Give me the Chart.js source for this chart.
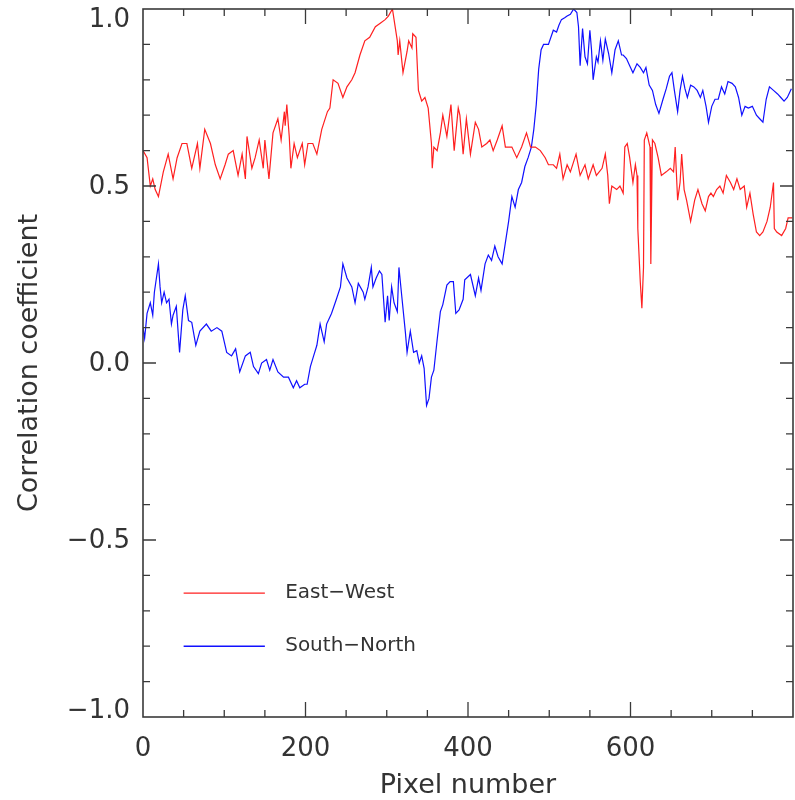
<!DOCTYPE html>
<html>
<head>
<meta charset="utf-8">
<script src="https://cdn.jsdelivr.net/npm/chart.js@4/dist/chart.umd.min.js"></script>
<style>
  html, body { margin: 0; padding: 0; background: #fff; }
  #wrap { width: 795px; height: 800px; }
</style>
</head>
<body>
<div id="wrap"><canvas id="corrChart" width="795" height="800"></canvas></div>
<script>
// East-West correlation (pixel number / coefficient)
const ewPixel = [0, 5, 9, 12, 15, 19, 25, 31, 37, 42, 48, 54, 60, 67, 70, 76, 83, 89, 95, 101,
  105, 111, 117, 122, 126, 128, 134, 138, 143, 148, 150, 155, 160, 166, 170, 174, 175, 177, 180, 182,
  186, 190, 196, 199, 203, 209, 214, 220, 227, 230, 234, 240, 246, 251, 257, 261, 267, 273, 279, 286,
  292, 298, 302, 307, 309, 313, 314, 316, 320, 325, 327, 331, 332, 336, 339, 343, 347, 351, 355, 356,
  358, 362, 366, 369, 374, 379, 383, 388, 390, 393, 394, 398, 403, 409, 413, 417, 423, 427, 431, 436,
  442, 446, 454, 460, 466, 472, 477, 483, 489, 495, 499, 505, 509, 513, 517, 522, 526, 533, 538, 544,
  548, 554, 558, 565, 569, 572, 574, 577, 583, 587, 591, 593, 596, 599, 603, 606, 608, 609, 612, 614,
  616, 617, 620, 622, 624, 625, 627, 630, 634, 638, 644, 649, 653, 655, 658, 661, 663, 666, 669, 674,
  679, 683, 688, 692, 696, 699, 702, 706, 710, 714, 718, 723, 727, 731, 735, 740, 743, 747, 751, 755,
  759, 763, 768, 772, 776, 777, 780, 786, 791, 794, 799];
const ewCorr = [0.60, 0.58, 0.50, 0.52, 0.49, 0.47, 0.54, 0.59, 0.52, 0.58, 0.62, 0.62, 0.55, 0.62, 0.55, 0.66, 0.62, 0.56, 0.52, 0.56,
  0.59, 0.60, 0.53, 0.59, 0.52, 0.64, 0.55, 0.58, 0.63, 0.55, 0.63, 0.52, 0.65, 0.69, 0.63, 0.71, 0.67, 0.73, 0.64, 0.55,
  0.62, 0.58, 0.62, 0.56, 0.62, 0.62, 0.59, 0.66, 0.71, 0.72, 0.80, 0.79, 0.75, 0.78, 0.80, 0.82, 0.87, 0.91, 0.92, 0.95,
  0.96, 0.97, 0.98, 1.00, 0.97, 0.91, 0.87, 0.91, 0.82, 0.88, 0.91, 0.89, 0.93, 0.92, 0.77, 0.74, 0.75, 0.72, 0.62, 0.55,
  0.61, 0.60, 0.65, 0.70, 0.64, 0.73, 0.60, 0.72, 0.70, 0.62, 0.59, 0.69, 0.59, 0.68, 0.66, 0.61, 0.62, 0.63, 0.60, 0.63,
  0.67, 0.61, 0.61, 0.58, 0.61, 0.65, 0.61, 0.61, 0.60, 0.58, 0.56, 0.56, 0.55, 0.59, 0.52, 0.56, 0.54, 0.59, 0.53, 0.56,
  0.52, 0.56, 0.53, 0.55, 0.59, 0.53, 0.45, 0.50, 0.49, 0.50, 0.48, 0.61, 0.62, 0.58, 0.51, 0.56, 0.53, 0.38, 0.23, 0.155,
  0.27, 0.63, 0.65, 0.63, 0.61, 0.28, 0.63, 0.62, 0.58, 0.53, 0.54, 0.55, 0.54, 0.61, 0.46, 0.51, 0.59, 0.49, 0.46, 0.40,
  0.46, 0.49, 0.45, 0.43, 0.47, 0.48, 0.47, 0.49, 0.50, 0.48, 0.53, 0.51, 0.49, 0.52, 0.49, 0.50, 0.44, 0.48, 0.42, 0.37,
  0.36, 0.37, 0.40, 0.44, 0.51, 0.38, 0.37, 0.36, 0.38, 0.41, 0.41];

// South-North correlation
const snPixel = [0, 2, 5, 9, 12, 14, 19, 21, 23, 26, 29, 32, 35, 37, 41, 45, 49, 52, 56, 60,
  65, 70, 78, 84, 91, 97, 103, 109, 114, 119, 126, 132, 136, 142, 146, 152, 156, 160, 166, 173,
  179, 185, 189, 193, 199, 202, 206, 210, 214, 218, 223, 226, 232, 238, 243, 246, 251, 257, 261, 265,
  271, 273, 277, 281, 283, 287, 291, 294, 298, 301, 303, 306, 309, 313, 315, 318, 323, 325, 329, 333,
  337, 340, 343, 346, 349, 352, 355, 358, 362, 366, 369, 374, 378, 382, 385, 389, 394, 396, 403, 409,
  413, 416, 421, 425, 429, 433, 437, 442, 446, 450, 454, 458, 462, 466, 470, 474, 478, 481, 484, 487,
  490, 493, 499, 505, 509, 512, 515, 519, 522, 526, 530, 534, 536, 538, 541, 544, 547, 550, 552, 554,
  558, 560, 563, 566, 569, 573, 577, 581, 585, 589, 591, 595, 599, 603, 608, 612, 616, 619, 623, 627,
  631, 635, 640, 644, 648, 651, 654, 658, 661, 664, 667, 670, 674, 678, 682, 686, 689, 693, 696, 700,
  704, 708, 712, 716, 720, 725, 729, 733, 737, 741, 745, 750, 755, 759, 763, 767, 771, 776, 781, 785,
  789, 793, 798];
const snCorr = [0.10, 0.07, 0.14, 0.17, 0.135, 0.20, 0.28, 0.215, 0.17, 0.20, 0.17, 0.18, 0.11, 0.135, 0.16, 0.03, 0.15, 0.19, 0.12, 0.115,
  0.05, 0.09, 0.11, 0.09, 0.10, 0.09, 0.03, 0.02, 0.04, -0.025, 0.02, 0.03, -0.01, -0.03, 0.00, 0.01, -0.02, 0.01, -0.025, -0.04,
  -0.04, -0.07, -0.05, -0.07, -0.06, -0.06, -0.01, 0.02, 0.05, 0.11, 0.06, 0.11, 0.14, 0.18, 0.215, 0.28, 0.24, 0.215, 0.17, 0.225,
  0.20, 0.18, 0.215, 0.27, 0.215, 0.24, 0.26, 0.25, 0.115, 0.19, 0.12, 0.215, 0.17, 0.145, 0.27, 0.20, 0.085, 0.03, 0.09, 0.03,
  0.035, 0.00, 0.02, -0.015, -0.12, -0.10, -0.04, -0.02, 0.065, 0.145, 0.165, 0.22, 0.23, 0.23, 0.14, 0.15, 0.18, 0.235, 0.25, 0.19,
  0.24, 0.205, 0.28, 0.305, 0.29, 0.33, 0.30, 0.28, 0.34, 0.40, 0.47, 0.44, 0.49, 0.51, 0.555, 0.58, 0.61, 0.66, 0.73, 0.83,
  0.885, 0.90, 0.90, 0.94, 0.935, 0.955, 0.97, 0.975, 0.98, 0.985, 1.00, 0.99, 0.95, 0.84, 0.945, 0.865, 0.845, 0.94, 0.885, 0.80,
  0.865, 0.85, 0.91, 0.855, 0.915, 0.875, 0.82, 0.885, 0.91, 0.87, 0.87, 0.86, 0.84, 0.82, 0.845, 0.835, 0.82, 0.835, 0.785, 0.77,
  0.73, 0.705, 0.745, 0.775, 0.81, 0.82, 0.77, 0.71, 0.77, 0.81, 0.775, 0.75, 0.785, 0.78, 0.77, 0.75, 0.77, 0.725, 0.68, 0.725,
  0.745, 0.745, 0.78, 0.76, 0.795, 0.79, 0.78, 0.75, 0.70, 0.725, 0.72, 0.725, 0.70, 0.69, 0.68, 0.745, 0.78, 0.77, 0.76, 0.75,
  0.74, 0.75, 0.775];

const seriesNames = ['East\u2212West', 'South\u2212North'];
const seriesColors = ['#ff2020', '#1010ff'];
const xTickLabels = [0, 200, 400, 600];
const yTickLabels = [-1.0, -0.5, 0.0, 0.5, 1.0];

const axisColor = '#3a3a3a';
const textColor = '#333';
const fontFamily = "'DejaVu Sans', sans-serif";

function toPoints(xs, ys) {
    return xs.map((x, i) => ({ x: x, y: ys[i] }));
}

// IDL-style boxed frame with inward ticks, y labels kept inside the canvas, and the legend
const framePlugin = {
    id: 'frame',
    afterDatasetsDraw(chart) {
        const { ctx, chartArea: a, scales: { x, y } } = chart;
        ctx.save();
        ctx.strokeStyle = axisColor;
        ctx.lineWidth = 1.6;
        ctx.strokeRect(a.left, a.top, a.right - a.left, a.bottom - a.top);

        ctx.lineWidth = 1.3;
        ctx.beginPath();
        for (let v = 50; v < 800; v += 50) {
            const px = x.getPixelForValue(v);
            const len = v % 200 === 0 ? 15 : 7;
            ctx.moveTo(px, a.bottom); ctx.lineTo(px, a.bottom - len);
            ctx.moveTo(px, a.top); ctx.lineTo(px, a.top + len);
        }
        for (let k = -9; k <= 9; k++) {
            const py = y.getPixelForValue(k / 10);
            const len = k % 5 === 0 ? 13 : 7;
            ctx.moveTo(a.left, py); ctx.lineTo(a.left + len, py);
            ctx.moveTo(a.right, py); ctx.lineTo(a.right - len, py);
        }
        ctx.stroke();

        // y tick labels
        ctx.fillStyle = textColor;
        ctx.font = '26px ' + fontFamily;
        ctx.textAlign = 'right';
        ctx.textBaseline = 'middle';
        yTickLabels.forEach(v => {
            const py = Math.min(Math.max(y.getPixelForValue(v), a.top + 10), a.bottom - 7);
            ctx.fillText(v.toFixed(1).replace('-', '\u2212'), a.left - 13, py + 1);
        });

        // legend
        const legendY = [-0.65, -0.80];
        ctx.font = '20px ' + fontFamily;
        ctx.textAlign = 'left';
        seriesNames.forEach((name, i) => {
            const py = y.getPixelForValue(legendY[i]);
            ctx.strokeStyle = seriesColors[i];
            ctx.lineWidth = 1.4;
            ctx.beginPath();
            ctx.moveTo(x.getPixelForValue(50), py);
            ctx.lineTo(x.getPixelForValue(150), py);
            ctx.stroke();
            ctx.fillStyle = textColor;
            ctx.fillText(name, x.getPixelForValue(175), py);
        });
        ctx.restore();
    }
};

const ctx = document.getElementById('corrChart').getContext('2d');
new Chart(ctx, {
    type: 'line',
    data: {
        datasets: [
            {
                label: seriesNames[0],
                data: toPoints(ewPixel, ewCorr),
                borderColor: seriesColors[0],
                borderWidth: 1.2,
                pointRadius: 0,
                tension: 0,
                fill: false
            },
            {
                label: seriesNames[1],
                data: toPoints(snPixel, snCorr),
                borderColor: seriesColors[1],
                borderWidth: 1.2,
                pointRadius: 0,
                tension: 0,
                fill: false
            }
        ]
    },
    options: {
        responsive: false,
        animation: false,
        layout: { padding: { top: 9, right: 2, left: 0, bottom: 0 } },
        plugins: {
            legend: { display: false },
            tooltip: { enabled: false }
        },
        scales: {
            x: {
                type: 'linear',
                min: 0,
                max: 800,
                grid: { display: false, drawTicks: false },
                border: { display: false },
                afterFit: (scale) => {
                    scale.height = 83;
                    scale.paddingLeft = 0;
                    scale.paddingRight = 0;
                },
                ticks: {
                    stepSize: 50,
                    autoSkip: false,
                    maxRotation: 0,
                    includeBounds: false,
                    padding: 17,
                    color: textColor,
                    font: { family: fontFamily, size: 26 },
                    callback: (v) => xTickLabels.includes(v) ? String(v) : ''
                },
                title: {
                    display: true,
                    text: 'Pixel number',
                    color: textColor,
                    font: { family: fontFamily, size: 27, lineHeight: 1 },
                    padding: { top: 0, bottom: 1 }
                }
            },
            y: {
                min: -1,
                max: 1,
                grid: { display: false, drawTicks: false },
                border: { display: false },
                afterFit: (scale) => {
                    scale.width = 143;
                    scale.paddingTop = 0;
                    scale.paddingBottom = 0;
                },
                ticks: {
                    display: false,
                    stepSize: 0.1
                },
                title: {
                    display: true,
                    text: 'Correlation coefficient',
                    color: textColor,
                    font: { family: fontFamily, size: 27, lineHeight: 1 },
                    padding: { top: 16, bottom: 0 }
                }
            }
        }
    },
    plugins: [framePlugin]
});
</script>
</body>
</html>
